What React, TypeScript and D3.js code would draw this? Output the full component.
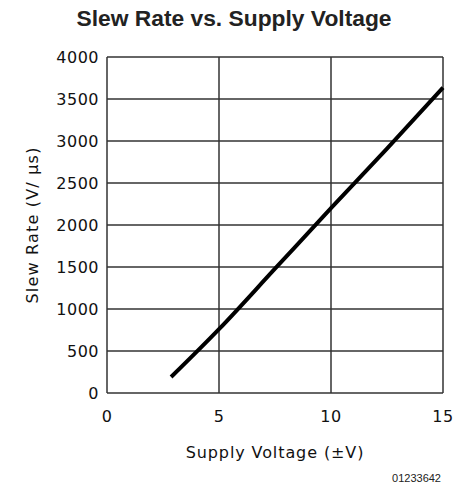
import * as d3 from "d3";

// Slew rate vs. supply voltage
const supplyV = [2.86, 5, 7.5, 10, 12.5, 15];
const slewRate = [190, 760, 1480, 2200, 2910, 3635];
const xTicks = [0, 5, 10, 15];
const yTicks = [0, 500, 1000, 1500, 2000, 2500, 3000, 3500, 4000];

const W = 455, H = 493;
const M = { left: 107, right: 12, top: 57, bottom: 100 };
const TICK_FONT = "'DejaVu Sans', sans-serif";

export default function App() {
  const x = d3.scaleLinear().domain([0, 15]).range([M.left, W - M.right]);
  const y = d3.scaleLinear().domain([0, 4000]).range([H - M.bottom, M.top]);
  const pts = supplyV.map((v, i) => [v, slewRate[i]] as [number, number]);
  const line = d3.line<[number, number]>()
    .x((d) => x(d[0])).y((d) => y(d[1]))
    .curve(d3.curveMonotoneX);

  return (
    <svg width={W} height={H} style={{ position: "absolute", left: 0, top: 0, background: "#fff" }}>
      <text x={234} y={26} textAnchor="middle" fontFamily="'Liberation Sans', Arial, sans-serif"
            fontWeight="bold" fontSize={22.8} fill="#222">Slew Rate vs. Supply Voltage</text>

      {/* grid */}
      {yTicks.map((t) => (
        <line key={"gy" + t} x1={x(0)} x2={x(15)} y1={y(t)} y2={y(t)} stroke="#333" strokeWidth={1.5} />
      ))}
      {xTicks.map((t) => (
        <line key={"gx" + t} x1={x(t)} x2={x(t)} y1={y(0)} y2={y(4000)} stroke="#333" strokeWidth={1.5} />
      ))}

      <path d={line(pts) ?? ""} fill="none" stroke="#000" strokeWidth={4} />

      {/* tick labels */}
      {yTicks.map((t) => (
        <text key={"ly" + t} x={99} y={y(t)} dy="0.36em" textAnchor="end" fontFamily={TICK_FONT}
              fontSize={16} letterSpacing={0.5} fill="#111">{t}</text>
      ))}
      {xTicks.map((t) => (
        <text key={"lx" + t} x={x(t)} y={422} textAnchor="middle" fontFamily={TICK_FONT}
              fontSize={16} letterSpacing={0.5} fill="#111">{t}</text>
      ))}

      <text x={275} y={458} textAnchor="middle" fontFamily={TICK_FONT} fontSize={16}
            letterSpacing={0.9} fill="#111">Supply Voltage (±V)</text>
      <text transform={`translate(38,225) rotate(-90)`} textAnchor="middle"
            fontFamily={TICK_FONT} fontSize={16} letterSpacing={1.2} fill="#111">Slew Rate (V/ μs)</text>

      <text x={441} y={482} textAnchor="end" fontFamily="'Liberation Sans', Arial, sans-serif"
            fontSize={11} fill="#222">01233642</text>
    </svg>
  );
}
